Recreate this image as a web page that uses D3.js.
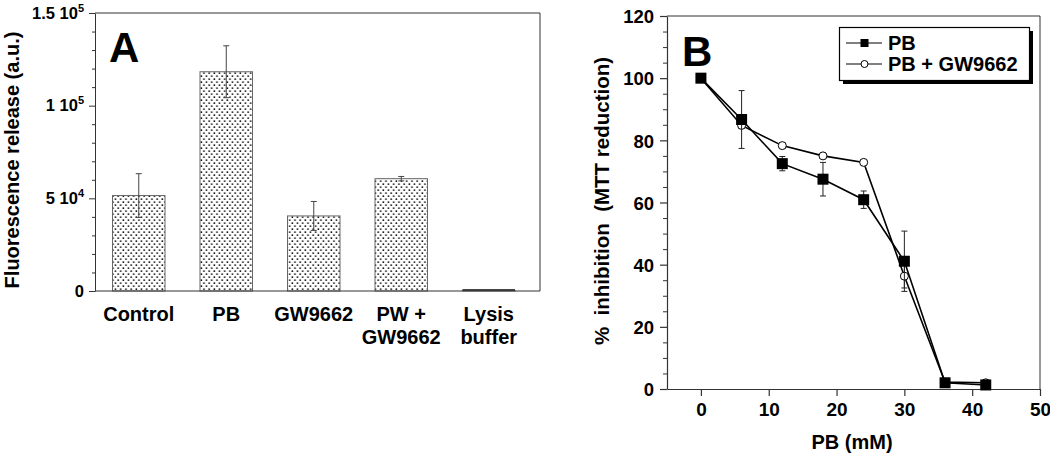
<!DOCTYPE html>
<html>
<head>
<meta charset="utf-8">
<script src="https://cdn.jsdelivr.net/npm/d3@7"></script>
<style>
  html, body { margin: 0; padding: 0; background: #fff; }
  svg { display: block; font-family: Arial, "Liberation Sans", Helvetica, sans-serif; }
  text { font-weight: bold; fill: #000; }
</style>
</head>
<body>
<svg id="chart" width="1050" height="455"></svg>
<script>
// ---------- Panel A data ----------
const categoriesA = ["Control", "PB", "GW9662", "PW +\nGW9662", "Lysis\nbuffer"];
const valuesA = [51500, 118300, 40500, 60600, 300];
const errorsA = [11800, 14000, 7800, 1200, 0];
const yTicksA = [0, 50000, 100000, 150000];
const yTickBaseA = ["0", "5 10", "1 10", "1.5 10"];
const yTickExpA = ["", "4", "5", "5"];
const yMinorA = [10000, 20000, 30000, 40000, 60000, 70000, 80000, 90000, 110000, 120000, 130000, 140000];

// ---------- Panel B data ----------
const concB = [0, 6, 12, 18, 24, 30, 36, 42];
const pbValues = [100, 86.7, 72.5, 67.5, 60.9, 41.1, 2.0, 1.3];
const pbErrors = [0, 9.3, 2.3, 5.4, 2.8, 9.7, 0, 0];
const pbGwValues = [100, 84.8, 78.3, 75.0, 72.9, 36.3, 2.2, 2.0];
const pbGwErrors = [0, 1.0, 0.8, 0.8, 0.6, 3.8, 0, 0];
const xTicksB = [0, 10, 20, 30, 40, 50];
const yTicksB = [0, 20, 40, 60, 80, 100, 120];
const yMinorB = d3.range(0, 121, 5).filter(v => v % 20 !== 0);
const legendLabels = ["PB", "PB + GW9662"];

const svg = d3.select("#chart");

// dotted pattern
const defs = svg.append("defs");
const pat = defs.append("pattern").attr("id", "dots")
  .attr("patternUnits", "userSpaceOnUse").attr("width", 5.2).attr("height", 6);
pat.append("rect").attr("width", 5.2).attr("height", 6).attr("fill", "#fff");
pat.append("rect").attr("x", 0.4).attr("y", 0.4).attr("width", 1.5).attr("height", 1.5).attr("fill", "#000");
pat.append("rect").attr("x", 3.0).attr("y", 3.4).attr("width", 1.5).attr("height", 1.5).attr("fill", "#000");

// ================= Panel A =================
const A = { left: 95, right: 540, top: 13, bottom: 291 };
const xA = d3.scaleBand().domain(categoriesA).range([A.left, 532.5]).paddingInner(0.4).paddingOuter(0.2);
const yA = d3.scaleLinear().domain([0, 150000]).range([A.bottom, A.top]);

const gA = svg.append("g");
gA.append("line").attr("x1", A.left).attr("x2", A.right).attr("y1", A.top).attr("y2", A.top).attr("stroke", "#333").attr("stroke-width", 1);
gA.append("line").attr("x1", A.right).attr("x2", A.right).attr("y1", A.top).attr("y2", A.bottom).attr("stroke", "#333").attr("stroke-width", 1);

// bars
gA.selectAll("rect.bar").data(categoriesA).join("rect").attr("class", "bar")
  .attr("x", d => xA(d)).attr("width", xA.bandwidth())
  .attr("y", (d, i) => yA(valuesA[i]))
  .attr("height", (d, i) => A.bottom - yA(valuesA[i]))
  .attr("fill", "url(#dots)").attr("stroke", "#666").attr("stroke-width", 1);

// lysis thin bar line
gA.append("line").attr("x1", xA(categoriesA[4])).attr("x2", xA(categoriesA[4]) + xA.bandwidth())
  .attr("y1", yA(valuesA[4]) - 0.5).attr("y2", yA(valuesA[4]) - 0.5).attr("stroke", "#444").attr("stroke-width", 2);

// error bars
categoriesA.forEach((c, i) => {
  if (!errorsA[i]) return;
  const cx = xA(c) + xA.bandwidth() / 2;
  const y1 = yA(valuesA[i] + errorsA[i]), y2 = yA(valuesA[i] - errorsA[i]);
  gA.append("line").attr("x1", cx).attr("x2", cx).attr("y1", y1).attr("y2", y2).attr("stroke", "#444").attr("stroke-width", 1);
  [y1, y2].forEach(y => gA.append("line").attr("x1", cx - 3).attr("x2", cx + 3).attr("y1", y).attr("y2", y).attr("stroke", "#444").attr("stroke-width", 1));
});

// y axis
const axA = gA.append("g").attr("transform", `translate(${A.left},0)`)
  .call(d3.axisLeft(yA).tickValues(yTicksA).tickSize(6).tickSizeOuter(0).tickFormat(""));
axA.selectAll("path,line").attr("stroke", "#333");
gA.append("g").attr("transform", `translate(${A.left},0)`)
  .call(d3.axisLeft(yA).tickValues(yMinorA).tickSize(3).tickSizeOuter(0).tickFormat(""))
  .call(g => g.select(".domain").remove())
  .selectAll("line").attr("stroke", "#333");

yTicksA.forEach((v, i) => {
  const t = gA.append("text").attr("x", 84).attr("y", yA(v) + 5.5)
    .attr("text-anchor", "end").attr("font-size", 16.5);
  t.append("tspan").text(yTickBaseA[i]);
  if (yTickExpA[i]) t.append("tspan").attr("dy", -7).attr("font-size", 11).text(yTickExpA[i]);
});

gA.append("line").attr("x1", A.left).attr("x2", A.right).attr("y1", A.bottom).attr("y2", A.bottom).attr("stroke", "#333").attr("stroke-width", 1.2);

categoriesA.forEach(c => {
  const lines = c.split("\n");
  const t = gA.append("text").attr("text-anchor", "middle").attr("font-size", 20)
    .attr("x", xA(c) + xA.bandwidth() / 2).attr("y", 321);
  lines.forEach((l, k) => t.append("tspan").attr("x", xA(c) + xA.bandwidth() / 2).attr("dy", k === 0 ? 0 : 22.5).text(l));
});

gA.append("text").attr("transform", "translate(19,160) rotate(-90)").attr("text-anchor", "middle")
  .attr("font-size", 20).text("Fluorescence release (a.u.)");

gA.append("text").attr("x", 109).attr("y", 62).attr("font-size", 42).text("A");

// ================= Panel B =================
const B = { left: 667, right: 1040, top: 16, bottom: 389 };
const xB = d3.scaleLinear().domain([-5, 50]).range([B.left, B.right]);
const yB = d3.scaleLinear().domain([0, 120]).range([B.bottom, B.top]);
const gB = svg.append("g");

gB.append("line").attr("x1", B.left).attr("x2", B.right).attr("y1", B.top).attr("y2", B.top).attr("stroke", "#333");
gB.append("line").attr("x1", B.right).attr("x2", B.right).attr("y1", B.top).attr("y2", B.bottom).attr("stroke", "#333");

const axBx = gB.append("g").attr("transform", `translate(0,${B.bottom})`)
  .call(d3.axisBottom(xB).tickValues(xTicksB).tickSize(7).tickSizeOuter(0).tickPadding(7));
axBx.selectAll("path,line").attr("stroke", "#333").attr("stroke-width", 1.2);
axBx.selectAll("text").attr("font-size", 19).attr("font-family", null).attr("fill", "#000").attr("font-weight", "bold");

const axBy = gB.append("g").attr("transform", `translate(${B.left},0)`)
  .call(d3.axisLeft(yB).tickValues(yTicksB).tickSize(7).tickSizeOuter(0).tickPadding(6));
axBy.selectAll("path,line").attr("stroke", "#333").attr("stroke-width", 1.2);
axBy.selectAll("text").attr("font-size", 18.5).attr("font-family", null).attr("fill", "#000").attr("font-weight", "bold").attr("dy", "0.36em");
gB.append("g").attr("transform", `translate(${B.left},0)`)
  .call(d3.axisLeft(yB).tickValues(yMinorB).tickSize(4).tickSizeOuter(0).tickFormat(""))
  .call(g => g.select(".domain").remove())
  .selectAll("line").attr("stroke", "#333");

const lineGen = d3.line().x(d => xB(d[0])).y(d => yB(d[1]));

function drawSeries(values, errors, marker) {
  const pts = concB.map((c, i) => [c, values[i]]);
  concB.forEach((c, i) => {
    if (!errors[i]) return;
    const cx = xB(c), y1 = yB(values[i] + errors[i]), y2 = yB(values[i] - errors[i]);
    gB.append("line").attr("x1", cx).attr("x2", cx).attr("y1", y1).attr("y2", y2).attr("stroke", "#222").attr("stroke-width", 1);
    [y1, y2].forEach(y => gB.append("line").attr("x1", cx - 3).attr("x2", cx + 3).attr("y1", y).attr("y2", y).attr("stroke", "#222").attr("stroke-width", 1));
  });
  gB.append("path").datum(pts).attr("d", lineGen).attr("fill", "none").attr("stroke", "#000").attr("stroke-width", 1.6);
  if (marker === "square") {
    gB.selectAll(null).data(pts).join("rect")
      .attr("x", d => xB(d[0]) - 5.5).attr("y", d => yB(d[1]) - 5.5)
      .attr("width", 11).attr("height", 11).attr("fill", "#000");
  } else {
    gB.selectAll(null).data(pts).join("circle")
      .attr("cx", d => xB(d[0])).attr("cy", d => yB(d[1])).attr("r", 4)
      .attr("fill", "#fff").attr("stroke", "#000").attr("stroke-width", 1);
  }
}
drawSeries(pbGwValues, pbGwErrors, "circle");
drawSeries(pbValues, pbErrors, "square");

// legend
const lg = gB.append("g");
lg.append("rect").attr("x", 843).attr("y", 31).attr("width", 190).attr("height", 53).attr("fill", "#000");
lg.append("rect").attr("x", 839.5).attr("y", 27.5).attr("width", 190).attr("height", 53).attr("fill", "#fff").attr("stroke", "#000").attr("stroke-width", 1.2);
legendLabels.forEach((lab, i) => {
  const y = 43 + i * 21;
  lg.append("line").attr("x1", 846).attr("x2", 882).attr("y1", y).attr("y2", y).attr("stroke", "#000").attr("stroke-width", 1);
  if (i === 0) lg.append("rect").attr("x", 860.5).attr("y", y - 4).attr("width", 8).attr("height", 8).attr("fill", "#000");
  else lg.append("circle").attr("cx", 864.5).attr("cy", y).attr("r", 3.5).attr("fill", "#fff").attr("stroke", "#000");
  lg.append("text").attr("x", 888).attr("y", y + 7).attr("font-size", 20).text(lab);
});

gB.append("text").attr("transform", "translate(609,201) rotate(-90)").attr("text-anchor", "middle")
  .attr("font-size", 20.5).style("white-space", "pre").text("%  inhibition  (MTT reduction)");
gB.append("text").attr("x", 852).attr("y", 449).attr("text-anchor", "middle").attr("font-size", 20).text("PB (mM)");
gB.append("text").attr("x", 682).attr("y", 66).attr("font-size", 42).text("B");
</script>
</body>
</html>
